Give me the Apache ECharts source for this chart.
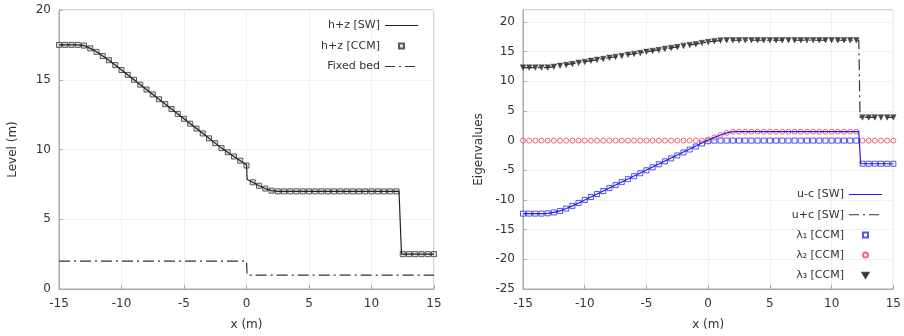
<!DOCTYPE html>
<html><head><meta charset="utf-8">
<script src="https://cdn.jsdelivr.net/npm/echarts@6/dist/echarts.min.js"></script>
<style>html,body{margin:0;padding:0;background:#fff}#c{width:904px;height:336px}</style>
</head><body><div id="c"></div>
<script>
// x positions of the CCM cells
const xs = [-15,-14.5,-14,-13.5,-13,-12.5,-12,-11.5,-11,-10.5,-10,-9.5,-9,-8.5,-8,-7.5,-7,-6.5,-6,-5.5,-5,-4.5,-4,-3.5,-3,-2.5,-2,-1.5,-1,-0.5,0,0.5,1,1.5,2,2.5,3,3.5,4,4.5,5,5.5,6,6.5,7,7.5,8,8.5,9,9.5,10,10.5,11,11.5,12,12.5,13,13.5,14,14.5,15];

// Left panel: water level h+z [CCM]
const levelCCM = [17.5,17.5,17.5,17.5,17.45,17.25,17.0,16.7,16.4,16.05,15.7,15.35,15.0,14.65,14.3,13.95,13.6,13.25,12.9,12.55,12.2,11.85,11.5,11.15,10.8,10.45,10.1,9.8,9.5,9.2,8.85,
  7.65,7.4,7.2,7.05,
  7.0,7.0,7.0,7.0,7.0,7.0,7.0,7.0,7.0,7.0,7.0,7.0,7.0,7.0,7.0,7.0,7.0,7.0,7.0,7.0,
  2.5,2.5,2.5,2.5,2.5,2.5];
// h+z [SW]
const swLevelX = [-15,-14,-13.5,-13,-12.5,-12,-11.5,-11,-10,-9,-8,-7,-6,-5,-4,-3,-2,-1,-0.5,0,0.05,0.5,1,1.5,2,2.5,12.2,12.4,15];
const swLevelY = [17.5,17.5,17.5,17.45,17.25,17.0,16.7,16.4,15.7,15.0,14.3,13.6,12.9,12.2,11.5,10.8,10.1,9.5,9.2,8.9,7.85,7.65,7.4,7.2,7.05,7.0,7.0,2.5,2.5];
// Fixed bed
const bedX = [-15,0,0.05,15];
const bedY = [2,2,1,1];

// Right panel: eigenvalues
const lambda1 = [-12.3,-12.3,-12.3,-12.3,-12.25,-12.1,-11.85,-11.45,-11.0,-10.5,-10.0,-9.5,-9.0,-8.5,-8.0,-7.5,-7.0,-6.5,-6.0,-5.5,-5.0,-4.5,-4.0,-3.5,-3.0,-2.5,-2.0,-1.5,-1.0,-0.5,-0.1,
  0,0,0,0,0,0,0,0,0,0,0,0,0,0,0,0,0,0,0,0,0,0,0,0,
  -3.9,-3.9,-3.9,-3.9,-3.9,-3.9];
const lambda2 = [0,0,0,0,0,0,0,0,0,0,0,0,0,0,0,0,0,0,0,0,0,0,0,0,0,0,0,0,0,0,
  0.2,0.55,0.95,1.3,1.5,
  1.5,1.5,1.5,1.5,1.5,1.5,1.5,1.5,1.5,1.5,1.5,1.5,1.5,1.5,1.5,1.5,1.5,1.5,1.5,1.5,
  0,0,0,0,0,0];
const lambda3 = [12.3,12.3,12.3,12.3,12.3,12.45,12.6,12.75,12.9,13.1,13.25,13.45,13.6,13.75,13.95,14.1,14.25,14.45,14.6,14.75,14.95,15.1,15.25,15.45,15.6,15.75,15.95,16.1,16.25,16.45,16.6,
  16.75,16.85,16.9,
  16.9,16.9,16.9,16.9,16.9,16.9,16.9,16.9,16.9,16.9,16.9,16.9,16.9,16.9,16.9,16.9,16.9,16.9,16.9,16.9,16.9,
  3.9,3.9,3.9,3.9,3.9,3.9];
const swUmcX = [-15,-13.5,-13,-12.5,-12,-11.5,-11,-10.5,0,0.5,1,1.5,2,12.2,12.35,15];
const swUmcY = [-12.3,-12.3,-12.25,-12.1,-11.85,-11.45,-11.0,-10.5,0.1,0.55,0.95,1.3,1.5,1.5,-3.9,-3.9];
const swUpcX = [-15,-13.5,-13,0,0.5,1,1.5,2,12.2,12.3,15];
const swUpcY = [12.3,12.3,12.3,16.6,16.75,16.85,16.9,16.9,16.9,3.9,3.9];

const leftLegend = ['h+z [SW]', 'h+z [CCM]', 'Fixed bed'];
const rightLegend = ['u-c [SW]', 'u+c [SW]', 'λ₁ [CCM]', 'λ₂ [CCM]', 'λ₃ [CCM]'];

const pairs = (a, b) => a.map((v, i) => [v, b[i]]);

const FONT = 'DejaVu Sans';
const txt = '#333';
const axisCommon = {
  axisLine: {show: true, onZero: false, lineStyle: {color: '#aaa'}},
  axisTick: {show: true, inside: true, length: 4, lineStyle: {color: '#aaa'}},
  splitLine: {show: true, lineStyle: {color: '#f0f0f0'}},
  axisLabel: {color: txt, fontFamily: FONT, fontSize: 12},
  nameTextStyle: {color: txt, fontFamily: FONT, fontSize: 12}
};
const dashDot = [11, 4, 2, 4];

// legend icon shapes
const ICON_SOLID = 'path://M0 0H33V1H0Z';
const ICON_DASHDOT = 'path://M0 0H10V1H0Z M14 0H16V1H14Z M20 0H30V1H20Z M33 0H33V1H33Z';
const ICON_RECT = 'path://M0 0H6V6H0Z';
const ICON_CIRC = 'path://M3 0A3 3 0 1 1 3 6A3 3 0 1 1 3 0Z';
const ICON_TRI = 'path://M0 0H6L3 5Z';

const option = {
  animation: false,
  backgroundColor: '#fff',
  grid: [
    {left: 59, right: 470, top: 10, bottom: 47, show: true, borderColor: '#aaa', borderWidth: 1},
    {left: 523, right: 7, top: 10, bottom: 47, show: true, borderColor: '#aaa', borderWidth: 1}
  ],
  xAxis: [
    Object.assign({}, axisCommon, {gridIndex: 0, type: 'value', min: -15, max: 15, interval: 5, name: 'x (m)', nameLocation: 'middle', nameGap: 30,
      axisLabel: Object.assign({}, axisCommon.axisLabel, {margin: 9})}),
    Object.assign({}, axisCommon, {gridIndex: 1, type: 'value', min: -15, max: 15, interval: 5, name: 'x (m)', nameLocation: 'middle', nameGap: 30,
      axisLabel: Object.assign({}, axisCommon.axisLabel, {margin: 9})})
  ],
  yAxis: [
    Object.assign({}, axisCommon, {gridIndex: 0, type: 'value', min: 0, max: 20, interval: 5, name: 'Level (m)', nameLocation: 'middle', nameGap: 40}),
    Object.assign({}, axisCommon, {gridIndex: 1, type: 'value', min: -25, max: 22, interval: 5, name: 'Eigenvalues', nameLocation: 'middle', nameGap: 38,
      axisLabel: Object.assign({}, axisCommon.axisLabel, {showMaxLabel: false})})
  ],
  legend: [
    {
      orient: 'vertical', right: 481, top: 15, align: 'right', itemWidth: 33, itemHeight: 5, itemGap: 9.5,
      symbolKeepAspect: true,
      textStyle: {color: txt, fontFamily: FONT, fontSize: 11},
      data: [
        {name: leftLegend[0], icon: ICON_SOLID},
        {name: leftLegend[1], icon: ICON_RECT},
        {name: leftLegend[2], icon: ICON_DASHDOT}
      ]
    },
    {
      orient: 'vertical', right: 17, top: 184, align: 'right', itemWidth: 33, itemHeight: 5, itemGap: 9.2,
      symbolKeepAspect: true,
      textStyle: {color: txt, fontFamily: FONT, fontSize: 11},
      data: [
        {name: rightLegend[0], icon: ICON_SOLID},
        {name: rightLegend[1], icon: ICON_DASHDOT},
        {name: rightLegend[2], icon: ICON_RECT},
        {name: rightLegend[3], icon: ICON_CIRC},
        {name: rightLegend[4], icon: ICON_TRI}
      ]
    }
  ],
  series: [
    {name: leftLegend[0], type: 'line', xAxisIndex: 0, yAxisIndex: 0, data: pairs(swLevelX, swLevelY),
      showSymbol: false, symbol: 'none', lineStyle: {color: '#222', width: 1.2}, itemStyle: {color: '#222'}},
    {name: leftLegend[1], type: 'scatter', xAxisIndex: 0, yAxisIndex: 0, data: pairs(xs, levelCCM),
      symbol: 'rect', symbolSize: 5, itemStyle: {color: 'rgba(200,200,200,0.6)', borderColor: '#333', borderWidth: 1}},
    {name: leftLegend[2], type: 'line', xAxisIndex: 0, yAxisIndex: 0, data: pairs(bedX, bedY),
      showSymbol: false, symbol: 'none', lineStyle: {color: '#333', width: 1.2, type: dashDot}, itemStyle: {color: '#333'}},

    {name: rightLegend[0], type: 'line', xAxisIndex: 1, yAxisIndex: 1, data: pairs(swUmcX, swUmcY),
      showSymbol: false, symbol: 'none', lineStyle: {color: '#2020e0', width: 1.2}, itemStyle: {color: '#2020e0'}},
    {name: rightLegend[1], type: 'line', xAxisIndex: 1, yAxisIndex: 1, data: pairs(swUpcX, swUpcY),
      showSymbol: false, symbol: 'none', lineStyle: {color: '#333', width: 1.2, type: dashDot}, itemStyle: {color: '#333'}},
    {name: rightLegend[2], type: 'scatter', xAxisIndex: 1, yAxisIndex: 1, data: pairs(xs, lambda1),
      symbol: 'rect', symbolSize: 5, itemStyle: {color: 'rgba(255,255,255,0.3)', borderColor: '#2a2ae6', borderWidth: 1}},
    {name: rightLegend[3], type: 'scatter', xAxisIndex: 1, yAxisIndex: 1, data: pairs(xs, lambda2),
      symbol: 'circle', symbolSize: 5, itemStyle: {color: 'rgba(255,255,255,0.3)', borderColor: '#f04060', borderWidth: 1}},
    {name: rightLegend[4], type: 'scatter', xAxisIndex: 1, yAxisIndex: 1, data: pairs(xs, lambda3),
      symbol: 'triangle', symbolRotate: 180, symbolSize: 5.5, itemStyle: {color: '#222', borderColor: '#222', borderWidth: 0.5}}
  ]
};
const chart = echarts.init(document.getElementById('c'), null, {renderer: 'canvas'});
chart.setOption(option);
</script>
</body></html>
